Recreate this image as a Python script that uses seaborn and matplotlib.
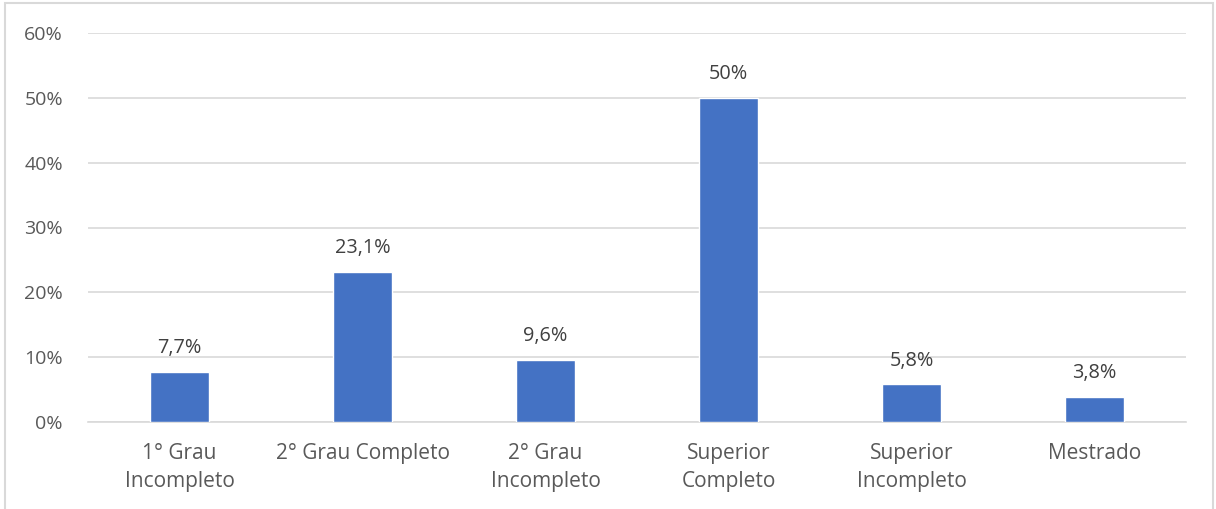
import matplotlib
matplotlib.use("Agg")
import matplotlib.pyplot as plt
import matplotlib.ticker as mtick
from matplotlib.patches import Rectangle
import pandas as pd
import seaborn as sns

# ── Data ────────────────────────────────────────────────────────────────────
categories = ["1° Grau\nIncompleto", "2° Grau Completo", "2° Grau\nIncompleto",
              "Superior\nCompleto", "Superior\nIncompleto", "Mestrado"]
values = [7.7, 23.1, 9.6, 50.0, 5.8, 3.8]
labels = ["7,7%", "23,1%", "9,6%", "50%", "5,8%", "3,8%"]
y_ticks = [0, 10, 20, 30, 40, 50, 60]

df = pd.DataFrame({"cat": categories, "val": values})

sns.set_style("white")
plt.rcParams["font.family"] = ["Open Sans", "DejaVu Sans"]

text_col = "#595959"
grid_col = "#d9d9d9"
bar_col = "#4472c4"

fig = plt.figure(figsize=(12.16, 5.09), dpi=100)
ax = fig.add_axes([88 / 1216, 1 - 422 / 509, 1098 / 1216, 389 / 509])

sns.barplot(data=df, x="cat", y="val", color=bar_col, width=0.317,
            saturation=1, ax=ax, zorder=3)

# value labels above the bars
for i, (v, lbl) in enumerate(zip(values, labels)):
    ax.annotate(lbl, (i, v), xytext=(0, 10), textcoords="offset points",
                ha="center", va="bottom", fontsize=14.3, color="#404040")

ax.set_ylim(0, 60)
ax.set_xlim(-0.5, len(categories) - 0.5)
ax.set_yticks(y_ticks)
ax.yaxis.set_major_formatter(mtick.FuncFormatter(lambda v, _: f"{v:.0f}%"))
ax.grid(axis="y", color=grid_col, lw=1.2, zorder=0)
ax.grid(axis="x", visible=False)
for s in ["top", "right", "left"]:
    ax.spines[s].set_visible(False)
ax.spines["bottom"].set_color(grid_col)
ax.spines["bottom"].set_linewidth(1.2)
ax.tick_params(axis="both", length=0, colors=text_col)
ax.tick_params(axis="y", pad=18, labelsize=14)
ax.tick_params(axis="x", pad=15, labelsize=15)
for t in ax.get_xticklabels():
    t.set_linespacing(1.45)
ax.set_xlabel("")
ax.set_ylabel("")

# chart-area border
fig.patches.append(Rectangle((5 / 1216, -0.05), 1208 / 1216, 1.05 - 3 / 509,
                             transform=fig.transFigure, fill=False,
                             edgecolor=grid_col, lw=1.5))

fig.savefig("out.png", dpi=100)
